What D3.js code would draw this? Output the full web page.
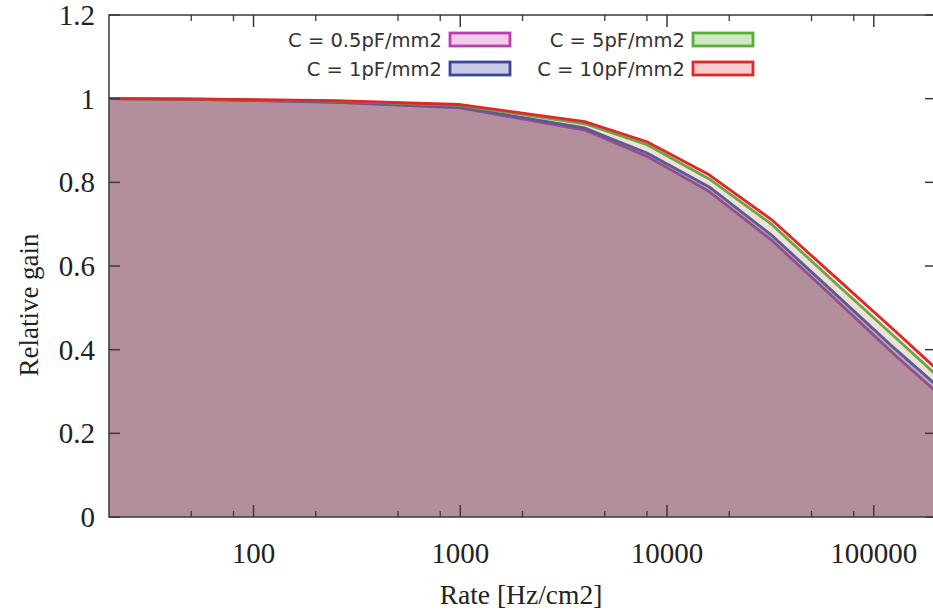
<!DOCTYPE html>
<html>
<head>
<meta charset="utf-8">
<script src="https://cdn.jsdelivr.net/npm/d3@7"></script>
<style>
    body { margin: 0; background: #fff; }
    svg { display: block; }
</style>
</head>
<body>
<div id="chart"></div>
<script>
// Rate points (Hz/cm2) and relative gain per capacitance
const rates = [20, 60, 250, 1000, 4000, 8000, 16000, 32000, 64000, 128000, 200000];
const gain05 = [1.0, 0.998, 0.991, 0.978, 0.925, 0.862, 0.778, 0.662, 0.524, 0.385, 0.300];
const gain1 = [1.0, 0.998, 0.992, 0.980, 0.930, 0.870, 0.789, 0.674, 0.537, 0.400, 0.316];
const gain5 = [1.0, 0.999, 0.994, 0.984, 0.940, 0.890, 0.808, 0.700, 0.563, 0.428, 0.340];
const gain10 = [1.0, 0.999, 0.995, 0.986, 0.945, 0.897, 0.818, 0.711, 0.577, 0.443, 0.355];

const seriesNames = ["C = 0.5pF/mm2", "C = 1pF/mm2", "C = 5pF/mm2", "C = 10pF/mm2"];
const seriesGains = [gain05, gain1, gain5, gain10];

const yTicks = [0, 0.2, 0.4, 0.6, 0.8, 1, 1.2];
const xTicks = [100, 1000, 10000, 100000];
const xMinorTicks = [50, 80, 200, 500, 800, 2000, 5000, 8000, 20000, 50000, 80000];

const lineColors = ["#b83fb0", "#3a45a0", "#58b038", "#e02828"];
const fillColors = ["#f76487", "#281e6e", "#78c86e", "#f06e78"];
const fillOpacity = [0.35, 0.35, 0.15, 0.15];
const legendFill = ["#f0cce8", "#c8cae6", "#d2e6c6", "#f8cccc"];

const width = 933;
const height = 613;
const plotLeft = 109, plotRight = 936, plotTop = 15, plotBottom = 517;

const svg = d3.select("#chart")
    .append("svg")
    .attr("width", width)
    .attr("height", height);

const x = d3.scaleLog()
    .domain([20, 200000])
    .range([plotLeft, plotRight]);

const y = d3.scaleLinear()
    .domain([0, 1.2])
    .range([plotBottom, plotTop]);

// Filled curves, lowest capacitance first
seriesGains.forEach(function(g, i) {
    const pts = rates.map(function(r, j) { return [r, g[j]]; });

    const area = d3.area()
        .x(function(d) { return x(d[0]); })
        .y0(y(0))
        .y1(function(d) { return y(d[1]); });

    const line = d3.line()
        .x(function(d) { return x(d[0]); })
        .y(function(d) { return y(d[1]); });

    svg.append("path")
        .attr("d", area(pts))
        .attr("fill", fillColors[i])
        .attr("fill-opacity", fillOpacity[i]);

    svg.append("path")
        .attr("d", line(pts))
        .attr("fill", "none")
        .attr("stroke", lineColors[i])
        .attr("stroke-width", 2.8)
        .attr("stroke-linejoin", "round");
});

// Frame
svg.append("rect")
    .attr("x", plotLeft)
    .attr("y", plotTop)
    .attr("width", plotRight - plotLeft)
    .attr("height", plotBottom - plotTop)
    .attr("fill", "none")
    .attr("stroke", "#3a3a3a")
    .attr("stroke-width", 1.5);

// Y ticks (left and mirrored right)
yTicks.forEach(function(t) {
    [[plotLeft, plotLeft + 11], [plotRight, plotRight - 11]].forEach(function(p) {
        svg.append("line")
            .attr("x1", p[0]).attr("x2", p[1])
            .attr("y1", y(t)).attr("y2", y(t))
            .attr("stroke", "#3a3a3a")
            .attr("stroke-width", 1.5);
    });

    svg.append("text")
        .attr("x", 95)
        .attr("y", y(t) + 10)
        .attr("text-anchor", "end")
        .attr("font-family", "Liberation Serif, Times New Roman, serif")
        .attr("font-size", 29)
        .attr("fill", "#222")
        .text(d3.format("~g")(t));
});

// X ticks (bottom and mirrored top)
xTicks.forEach(function(t) {
    [[plotBottom, plotBottom - 12], [plotTop, plotTop + 12]].forEach(function(p) {
        svg.append("line")
            .attr("x1", x(t)).attr("x2", x(t))
            .attr("y1", p[0]).attr("y2", p[1])
            .attr("stroke", "#3a3a3a")
            .attr("stroke-width", 1.5);
    });

    svg.append("text")
        .attr("x", x(t))
        .attr("y", 563)
        .attr("text-anchor", "middle")
        .attr("font-family", "Liberation Serif, Times New Roman, serif")
        .attr("font-size", 29)
        .attr("fill", "#222")
        .text(t);
});

xMinorTicks.forEach(function(t) {
    [[plotBottom, plotBottom - 6], [plotTop, plotTop + 6]].forEach(function(p) {
        svg.append("line")
            .attr("x1", x(t)).attr("x2", x(t))
            .attr("y1", p[0]).attr("y2", p[1])
            .attr("stroke", "#3a3a3a")
            .attr("stroke-width", 1.3);
    });
});

// Axis titles
svg.append("text")
    .attr("x", 521)
    .attr("y", 604)
    .attr("text-anchor", "middle")
    .attr("font-family", "Liberation Serif, Times New Roman, serif")
    .attr("font-size", 27.5)
    .attr("fill", "#222")
    .text("Rate [Hz/cm2]");

svg.append("text")
    .attr("transform", "translate(38,305) rotate(-90)")
    .attr("text-anchor", "middle")
    .attr("font-family", "Liberation Serif, Times New Roman, serif")
    .attr("font-size", 27)
    .attr("fill", "#222")
    .text("Relative gain");

// Legend, two columns
const legendPos = [
    { tx: 442, bx: 450, y: 40 },
    { tx: 442, bx: 450, y: 69 },
    { tx: 685, bx: 693, y: 40 },
    { tx: 685, bx: 693, y: 69 }
];

seriesNames.forEach(function(name, i) {
    const p = legendPos[i];

    svg.append("text")
        .attr("x", p.tx)
        .attr("y", p.y + 7)
        .attr("text-anchor", "end")
        .attr("font-family", "DejaVu Sans, sans-serif")
        .attr("font-size", 19.5)
        .attr("fill", "#333")
        .text(name);

    svg.append("rect")
        .attr("x", p.bx)
        .attr("y", p.y - 7)
        .attr("width", 60)
        .attr("height", 13)
        .attr("fill", legendFill[i])
        .attr("stroke", lineColors[i])
        .attr("stroke-width", 2.8);
});
</script>
</body>
</html>
